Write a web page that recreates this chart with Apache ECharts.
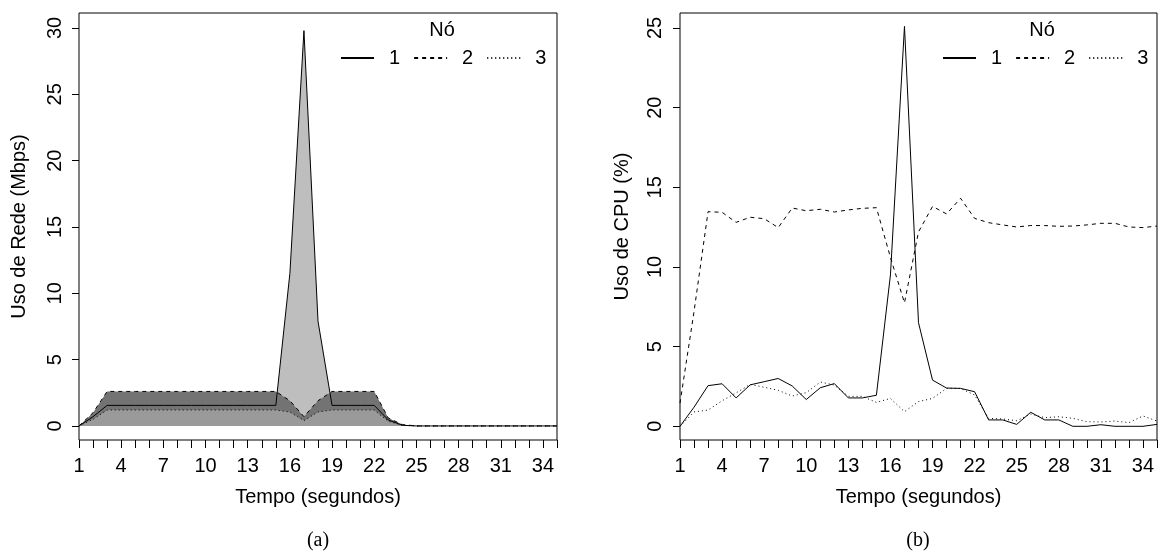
<!DOCTYPE html>
<html><head><meta charset="utf-8">
<script src="https://cdn.jsdelivr.net/npm/echarts@6/dist/echarts.min.js"></script>
<style>html,body{margin:0;padding:0;background:#fff}#c{width:1160px;height:552px}</style>
</head><body><div id="c"></div>
<script>
// time in seconds
const times = Array.from({length:35},(_,i)=>String(i+1));
const xTickLabels = ['1','4','7','10','13','16','19','22','25','28','31','34'];
const netTicks = [0,5,10,15,20,25,30];
const cpuTicks = [0,5,10,15,20,25];
// Network usage (Mbps) per node
const net1 = [0,0.7,1.55,1.55,1.55,1.55,1.55,1.55,1.55,1.55,1.55,1.55,1.55,1.55,1.55,11.5,29.8,7.9,1.55,1.55,1.55,1.55,0.45,0.05,0,0,0,0,0,0,0,0,0,0,0];
const net2 = [0,1.0,2.6,2.6,2.6,2.6,2.6,2.6,2.6,2.6,2.6,2.6,2.6,2.6,2.6,1.9,0.7,1.9,2.6,2.6,2.6,2.6,0.6,0.1,0,0,0,0,0,0,0,0,0,0,0];
const net3 = [0,0.5,1.2,1.2,1.2,1.2,1.2,1.2,1.2,1.2,1.2,1.2,1.2,1.2,1.2,1.05,0.4,1.05,1.2,1.2,1.2,1.2,0.35,0.05,0,0,0,0,0,0,0,0,0,0,0];
// CPU usage (%) per node
const cpu1 = [0,1.2,2.55,2.67,1.78,2.6,2.8,3.0,2.53,1.68,2.42,2.68,1.78,1.78,1.95,9.5,25.1,6.5,2.9,2.4,2.38,2.17,0.4,0.4,0.12,0.88,0.4,0.4,0,0,0.1,0,0,0,0.12];
const cpu2 = [1.45,7.2,13.47,13.43,12.8,13.12,13.03,12.47,13.7,13.53,13.62,13.45,13.58,13.68,13.72,10.6,7.75,12.2,13.8,13.33,14.31,13.05,12.78,12.64,12.51,12.6,12.6,12.55,12.57,12.64,12.74,12.74,12.51,12.47,12.57];
const cpu3 = [0,0.9,1.02,1.6,2.1,2.63,2.45,2.26,1.9,2.11,2.78,2.59,1.88,1.88,1.5,1.75,0.92,1.55,1.75,2.38,2.38,1.96,0.5,0.46,0.35,0.77,0.54,0.6,0.5,0.29,0.27,0.33,0.23,0.65,0.33];
const nodeNames = ['1','2','3'];

const FONT = 'Liberation Sans, Arial, sans-serif';
const FS = 20;
const lineTypes = ['solid',[4,4],[1,3]];
const areaColors = ['#bebebe','#737373','#9a9a9a'];

function xAxisDef(gi){
  return {type:'category', gridIndex:gi, data:times, boundaryGap:false,
    axisLine:{show:false, onZero:false},
    axisTick:{show:true, interval:0, length:8, lineStyle:{color:'#000'}},
    axisLabel:{interval:2, margin:16, color:'#000', fontFamily:FONT, fontSize:FS},
    splitLine:{show:false},
    name:'Tempo (segundos)', nameLocation:'middle', nameGap:47,
    nameTextStyle:{color:'#000', fontFamily:FONT, fontSize:FS}};
}
function yAxisDef(gi,min,max,ticks,name,gap,margin){
  return {type:'value', gridIndex:gi, min:min, max:max,
    axisLine:{show:false, onZero:false},
    axisTick:{show:true, length:7, customValues:ticks, lineStyle:{color:'#000'}},
    axisLabel:{customValues:ticks, rotate:90, margin:margin, color:'#000', fontFamily:FONT, fontSize:FS},
    splitLine:{show:false},
    name:name, nameLocation:'middle', nameRotate:90, nameGap:gap,
    nameTextStyle:{color:'#000', fontFamily:FONT, fontSize:FS}};
}
const series = [];
const netData = [net1,net2,net3];
const cpuData = [cpu1,cpu2,cpu3];
// areas first
netData.forEach((d,i)=>{
  series.push({type:'line', name:'area'+nodeNames[i], xAxisIndex:0, yAxisIndex:0, data:d,
    symbol:'none', lineStyle:{width:0}, areaStyle:{color:areaColors[i], opacity:1}, silent:true, z:1});
});
netData.forEach((d,i)=>{
  series.push({type:'line', name:nodeNames[i], xAxisIndex:0, yAxisIndex:0, data:d,
    symbol:'none', color:'#000', lineStyle:{color:'#000', width:1, type:lineTypes[i]}, z:3});
});
cpuData.forEach((d,i)=>{
  series.push({type:'line', name:nodeNames[i], xAxisIndex:1, yAxisIndex:1, data:d,
    symbol:'none', color:'#000', lineStyle:{color:'#000', width:1, type:lineTypes[i]}, z:3});
});
function legendDef(left){
  return {left:left, top:48, width:230, padding:0, orient:'horizontal', data:nodeNames, itemWidth:33, itemHeight:14,
    itemGap:13,
    itemStyle:{color:'rgba(0,0,0,0)', borderColor:'rgba(0,0,0,0)', borderWidth:0, opacity:0},
    textStyle:{color:'#000', fontFamily:FONT, fontSize:FS, padding:[0,0,0,10]},
    selectedMode:false};
}
const option = {
  animation:false,
  backgroundColor:'#fff',
  grid:[
    {left:79, top:13, width:478, height:427, show:true, borderColor:'#000', borderWidth:1, backgroundColor:'transparent'},
    {left:680, top:13, width:477, height:427, show:true, borderColor:'#000', borderWidth:1, backgroundColor:'transparent'}
  ],
  xAxis:[xAxisDef(0), xAxisDef(1)],
  yAxis:[yAxisDef(0,-1.06,31.13,netTicks,'Uso de Rede (Mbps)',50,14), yAxisDef(1,-0.86,25.94,cpuTicks,'Uso de CPU (%)',48,15)],
  legend:[legendDef(340), legendDef(942)],
  graphic:[
    {type:'text', style:{text:'Nó', x:442, y:30, fill:'#000', font:FS+'px '+FONT, align:'center', verticalAlign:'middle'}},
    {type:'text', style:{text:'Nó', x:1042, y:30, fill:'#000', font:FS+'px '+FONT, align:'center', verticalAlign:'middle'}},
    {type:'text', style:{text:'(a)', x:318, y:541, fill:'#000', font:'20px Liberation Serif, Times New Roman, serif', align:'center', verticalAlign:'middle'}},
    {type:'text', style:{text:'(b)', x:918, y:541, fill:'#000', font:'20px Liberation Serif, Times New Roman, serif', align:'center', verticalAlign:'middle'}}
  ],
  series:series
};
const chart = echarts.init(document.getElementById('c'), null, {renderer:'canvas'});
chart.setOption(option);
</script></body></html>
